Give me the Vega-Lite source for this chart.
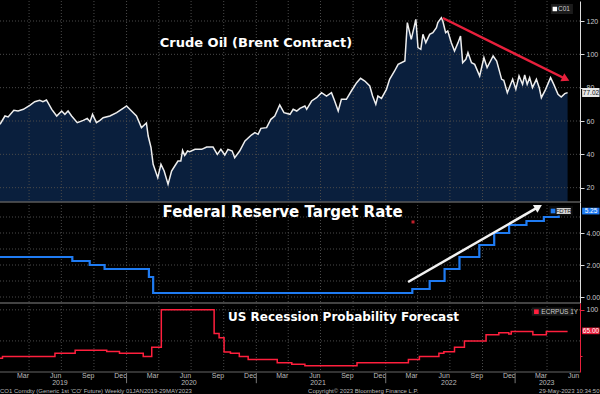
{
"$schema":"https://vega.github.io/schema/vega-lite/v6.json",
"background":"#000000","padding":{"left":-5,"right":0,"top":0,"bottom":0},"spacing":0,"bounds":"flush",
"config":{"view":{"stroke":null},"axis":{"labelFont":"Liberation Sans","title":null},"text":{"font":"Liberation Sans"}},
"datasets":{
"oil":[{"d":"2019-01-09","v":58},{"d":"2019-01-23","v":63},{"d":"2019-02-01","v":62.4},{"d":"2019-02-17","v":66.4},{"d":"2019-03-01","v":66},{"d":"2019-03-16","v":67},{"d":"2019-04-03","v":69.4},{"d":"2019-04-17","v":71.6},{"d":"2019-05-01","v":72.4},{"d":"2019-05-10","v":71.6},{"d":"2019-05-20","v":72.6},{"d":"2019-06-04","v":67},{"d":"2019-06-18","v":63},{"d":"2019-07-02","v":66},{"d":"2019-07-11","v":64},{"d":"2019-07-20","v":66},{"d":"2019-07-30","v":63},{"d":"2019-08-15","v":59},{"d":"2019-09-01","v":60.4},{"d":"2019-09-12","v":61.6},{"d":"2019-09-20","v":59.6},{"d":"2019-09-27","v":64},{"d":"2019-10-08","v":59},{"d":"2019-10-18","v":60.4},{"d":"2019-10-27","v":62},{"d":"2019-11-15","v":63},{"d":"2019-12-04","v":65},{"d":"2019-12-21","v":67.4},{"d":"2020-01-01","v":69},{"d":"2020-01-15","v":66},{"d":"2020-01-29","v":63},{"d":"2020-02-12","v":56},{"d":"2020-02-26","v":58.8},{"d":"2020-03-02","v":51},{"d":"2020-03-10","v":44},{"d":"2020-03-16","v":34},{"d":"2020-03-29","v":26},{"d":"2020-04-07","v":34},{"d":"2020-04-16","v":30},{"d":"2020-04-27","v":22},{"d":"2020-05-07","v":30},{"d":"2020-05-16","v":33},{"d":"2020-05-25","v":36},{"d":"2020-06-02","v":36},{"d":"2020-06-07","v":42.4},{"d":"2020-06-13","v":39.4},{"d":"2020-06-21","v":42},{"d":"2020-06-27","v":41.6},{"d":"2020-07-12","v":43},{"d":"2020-07-31","v":43},{"d":"2020-08-14","v":44.4},{"d":"2020-09-01","v":44.4},{"d":"2020-09-13","v":40},{"d":"2020-09-23","v":43},{"d":"2020-10-04","v":39.6},{"d":"2020-10-13","v":43},{"d":"2020-10-25","v":42},{"d":"2020-11-01","v":38},{"d":"2020-11-15","v":42},{"d":"2020-11-30","v":48},{"d":"2020-12-18","v":51.6},{"d":"2020-12-28","v":53},{"d":"2021-01-06","v":52},{"d":"2021-01-14","v":55.6},{"d":"2021-01-30","v":56},{"d":"2021-02-11","v":61},{"d":"2021-02-22","v":63},{"d":"2021-03-08","v":69.6},{"d":"2021-03-20","v":65},{"d":"2021-04-06","v":64},{"d":"2021-04-15","v":67},{"d":"2021-04-25","v":66},{"d":"2021-05-04","v":67.6},{"d":"2021-05-18","v":69},{"d":"2021-05-23","v":67},{"d":"2021-06-06","v":72},{"d":"2021-06-20","v":74},{"d":"2021-07-04","v":77},{"d":"2021-07-18","v":75},{"d":"2021-08-01","v":77},{"d":"2021-08-10","v":72},{"d":"2021-08-20","v":66},{"d":"2021-08-29","v":73},{"d":"2021-09-12","v":73},{"d":"2021-09-26","v":78},{"d":"2021-10-11","v":83},{"d":"2021-10-22","v":85.6},{"d":"2021-11-03","v":84},{"d":"2021-11-17","v":81},{"d":"2021-11-25","v":75},{"d":"2021-12-04","v":70},{"d":"2021-12-10","v":75},{"d":"2021-12-20","v":73.6},{"d":"2022-01-03","v":79},{"d":"2022-01-12","v":85},{"d":"2022-01-26","v":90},{"d":"2022-02-05","v":94},{"d":"2022-02-24","v":96},{"d":"2022-03-03","v":119},{"d":"2022-03-14","v":109},{"d":"2022-03-27","v":121},{"d":"2022-04-02","v":104},{"d":"2022-04-10","v":103},{"d":"2022-04-16","v":112},{"d":"2022-04-24","v":107},{"d":"2022-05-05","v":112},{"d":"2022-05-14","v":113},{"d":"2022-05-24","v":116},{"d":"2022-05-28","v":119},{"d":"2022-06-07","v":122},{"d":"2022-06-11","v":120},{"d":"2022-06-19","v":113},{"d":"2022-06-25","v":114},{"d":"2022-07-05","v":107},{"d":"2022-07-14","v":102},{"d":"2022-07-24","v":107},{"d":"2022-07-31","v":111},{"d":"2022-08-06","v":95},{"d":"2022-08-15","v":97},{"d":"2022-08-21","v":101},{"d":"2022-08-31","v":95},{"d":"2022-09-09","v":94},{"d":"2022-09-23","v":87},{"d":"2022-10-05","v":98},{"d":"2022-10-14","v":92},{"d":"2022-10-31","v":99},{"d":"2022-11-10","v":96},{"d":"2022-11-24","v":85},{"d":"2022-11-30","v":84.4},{"d":"2022-12-10","v":77},{"d":"2022-12-25","v":85},{"d":"2023-01-03","v":79},{"d":"2023-01-12","v":87},{"d":"2023-01-22","v":82},{"d":"2023-01-28","v":87.6},{"d":"2023-02-04","v":82},{"d":"2023-02-11","v":86},{"d":"2023-02-19","v":80},{"d":"2023-03-02","v":85},{"d":"2023-03-10","v":80},{"d":"2023-03-16","v":74},{"d":"2023-03-28","v":79},{"d":"2023-04-11","v":86},{"d":"2023-04-20","v":82},{"d":"2023-05-02","v":76},{"d":"2023-05-11","v":74.4},{"d":"2023-05-21","v":76.4},{"d":"2023-05-29","v":77}],
"fed":[{"d":"2019-01-09","v":2.5},{"d":"2019-08-01","v":2.25},{"d":"2019-09-19","v":2.0},{"d":"2019-10-31","v":1.75},{"d":"2020-03-04","v":1.25},{"d":"2020-03-16","v":0.25},{"d":"2022-03-17","v":0.5},{"d":"2022-05-05","v":1.0},{"d":"2022-06-16","v":1.75},{"d":"2022-07-28","v":2.5},{"d":"2022-09-22","v":3.25},{"d":"2022-11-03","v":4.0},{"d":"2022-12-15","v":4.5},{"d":"2023-02-02","v":4.75},{"d":"2023-03-23","v":5.0},{"d":"2023-05-04","v":5.25},{"d":"2023-05-29","v":5.25}],
"rec":[{"d":"2019-01-09","v":22},{"d":"2019-01-16","v":25},{"d":"2019-06-13","v":30},{"d":"2019-08-09","v":35},{"d":"2019-11-06","v":33},{"d":"2019-12-12","v":30},{"d":"2020-02-17","v":25},{"d":"2020-03-12","v":40},{"d":"2020-04-08","v":100},{"d":"2020-09-04","v":62},{"d":"2020-09-18","v":55},{"d":"2020-10-02","v":32},{"d":"2020-10-20","v":30},{"d":"2020-11-14","v":25},{"d":"2020-12-09","v":20},{"d":"2021-03-01","v":15},{"d":"2021-04-11","v":12.5},{"d":"2021-05-18","v":10},{"d":"2021-10-12","v":15},{"d":"2022-03-06","v":20},{"d":"2022-04-06","v":25},{"d":"2022-05-31","v":30},{"d":"2022-06-14","v":32.5},{"d":"2022-07-14","v":40},{"d":"2022-08-11","v":50},{"d":"2022-10-11","v":60},{"d":"2022-11-16","v":63},{"d":"2022-12-14","v":61},{"d":"2022-12-21","v":65},{"d":"2023-02-20","v":60},{"d":"2023-03-30","v":65},{"d":"2023-05-29","v":65}],
"quarters":[{"d":"2019-04-01"},{"d":"2019-07-01"},{"d":"2019-10-01"},{"d":"2020-01-01"},{"d":"2020-04-01"},{"d":"2020-07-01"},{"d":"2020-10-01"},{"d":"2021-01-01"},{"d":"2021-04-01"},{"d":"2021-07-01"},{"d":"2021-10-01"},{"d":"2022-01-01"},{"d":"2022-04-01"},{"d":"2022-07-01"},{"d":"2022-10-01"},{"d":"2023-01-01"},{"d":"2023-04-01"}],
"months":[{"d":"2019-03-15","t":"Mar"},{"d":"2019-06-15","t":"Jun"},{"d":"2019-09-15","t":"Sep"},{"d":"2019-12-15","t":"Dec"},{"d":"2020-03-15","t":"Mar"},{"d":"2020-06-15","t":"Jun"},{"d":"2020-09-15","t":"Sep"},{"d":"2020-12-15","t":"Dec"},{"d":"2021-03-15","t":"Mar"},{"d":"2021-06-15","t":"Jun"},{"d":"2021-09-15","t":"Sep"},{"d":"2021-12-15","t":"Dec"},{"d":"2022-03-15","t":"Mar"},{"d":"2022-06-15","t":"Jun"},{"d":"2022-09-15","t":"Sep"},{"d":"2022-12-15","t":"Dec"},{"d":"2023-03-15","t":"Mar"},{"d":"2023-06-15","t":"Jun"}]
},
"vconcat":[
{"width":580,"height":201,
"layer":[
{"data":{"name":"oil"},"mark":{"type":"area","color":"#0a1f3d"},
"encoding":{"x":{"field":"d","type":"temporal","scale":{"domain":[{"year":2019,"month":1,"date":9,"utc":true},{"year":2023,"month":7,"date":3,"utc":true}]},"axis":null},
"y":{"field":"v","type":"quantitative","scale":{"domain":[11.4,132],"nice":false,"zero":false},"axis":{"orient":"right","values":[20,30,40,50,60,70,80,90,100,110,120,130],"labelExpr":"datum.value % 20 == 0 ? datum.label : ''","tickSize":{"condition":{"test":"datum.value % 20 == 0","value":4},"value":2},"grid":false,"domainColor":"#dddddd","tickColor":"#dddddd","labelColor":"#cccccc","labelFontSize":7,"labelPadding":2}},
"y2":{"datum":11.4}}},
{"data":{"name":"quarters"},"mark":{"type":"rule","color":"#4a4a4a","strokeDash":[1,2]},"encoding":{"x":{"field":"d","type":"temporal"}}},
{"data":{"values":[{"v":20},{"v":40},{"v":60},{"v":80},{"v":100},{"v":120}]},"mark":{"type":"rule","color":"#4a4a4a","strokeDash":[1,2]},"encoding":{"y":{"field":"v","type":"quantitative"}}},
{"data":{"values":[{"v":11.4}]},"mark":{"type":"rule","color":"#5a5a5a","strokeWidth":1.5},"encoding":{"y":{"field":"v","type":"quantitative"}}},
{"data":{"name":"oil"},"mark":{"type":"line","color":"#eeeeee","strokeWidth":1.5},"encoding":{"x":{"field":"d","type":"temporal"},"y":{"field":"v","type":"quantitative"}}},
{"data":{"values":[{"d":"2022-06-11","v":121.8},{"d":"2023-05-24","v":85.2}]},"mark":{"type":"line","color":"#e8203c","strokeWidth":2.5},"encoding":{"x":{"field":"d","type":"temporal"},"y":{"field":"v","type":"quantitative"}}},
{"data":{"values":[{"d":"2023-05-24","v":85.2}]},"mark":{"type":"point","shape":"triangle-right","angle":26,"size":80,"filled":true,"opacity":1,"color":"#e8203c"},"encoding":{"x":{"field":"d","type":"temporal"},"y":{"field":"v","type":"quantitative"}}},
{"data":{"values":[{"d":"2020-12-31","v":106.8,"t":"Crude Oil (Brent Contract)"}]},"mark":{"type":"text","font":"DejaVu Sans","fontWeight":"bold","fontSize":13,"color":"#ffffff","baseline":"middle"},"encoding":{"x":{"field":"d","type":"temporal"},"y":{"field":"v","type":"quantitative"},"text":{"field":"t"}}},
{"data":{"values":[{"d":"2023-04-12","d2":"2023-06-13","v":124.2,"v2":130.2}]},"mark":{"type":"rect","color":"#1c1c1c"},"encoding":{"x":{"field":"d","type":"temporal"},"x2":{"field":"d2"},"y":{"field":"v","type":"quantitative"},"y2":{"field":"v2"}}},
{"data":{"values":[{"d":"2023-04-23","v":127.2}]},"mark":{"type":"square","size":20,"opacity":1,"color":"#ffffff"},"encoding":{"x":{"field":"d","type":"temporal"},"y":{"field":"v","type":"quantitative"}}},
{"data":{"values":[{"d":"2023-05-02","v":127.2,"t":"C01"}]},"mark":{"type":"text","align":"left","baseline":"middle","fontSize":6.5,"color":"#cccccc"},"encoding":{"x":{"field":"d","type":"temporal"},"y":{"field":"v","type":"quantitative"},"text":{"field":"t"}}},
{"data":{"values":[{"d":"2023-07-09","d2":"2023-08-27","v":74.4,"v2":79.8}]},"mark":{"type":"rect","color":"#e6e6e6"},"encoding":{"x":{"field":"d","type":"temporal"},"x2":{"field":"d2"},"y":{"field":"v","type":"quantitative"},"y2":{"field":"v2"}}},
{"data":{"values":[{"d":"2023-08-03","v":77.1,"t":"77.02"}]},"mark":{"type":"text","baseline":"middle","fontSize":6.5,"color":"#111111"},"encoding":{"x":{"field":"d","type":"temporal"},"y":{"field":"v","type":"quantitative"},"text":{"field":"t"}}}
]},
{"width":580,"height":101,
"layer":[
{"data":{"name":"quarters"},"mark":{"type":"rule","color":"#4a4a4a","strokeDash":[1,2]},
"encoding":{"x":{"field":"d","type":"temporal","scale":{"domain":[{"year":2019,"month":1,"date":9,"utc":true},{"year":2023,"month":7,"date":3,"utc":true}]},"axis":null}}},
{"data":{"values":[{"v":0},{"v":1},{"v":2},{"v":3},{"v":4},{"v":5}]},"mark":{"type":"rule","color":"#4a4a4a","strokeDash":[1,2]},"encoding":{"y":{"field":"v","type":"quantitative"}}},
{"data":{"values":[{"v":-0.375}]},"mark":{"type":"rule","color":"#5a5a5a","strokeWidth":1.5},"encoding":{"y":{"field":"v","type":"quantitative"}}},
{"data":{"name":"fed"},"mark":{"type":"line","color":"#1f7bf2","strokeWidth":2.2,"interpolate":"step-after"},
"encoding":{"x":{"field":"d","type":"temporal"},
"y":{"field":"v","type":"quantitative","scale":{"domain":[-0.375,5.9375],"nice":false,"zero":false},"axis":{"orient":"right","values":[0,0.5,1,1.5,2,2.5,3,3.5,4,4.5,5,5.5],"labelExpr":"datum.value % 1 == 0 ? format(datum.value, '.2f') : ''","tickSize":{"condition":{"test":"datum.value % 1 == 0","value":4},"value":2},"grid":false,"domainColor":"#dddddd","tickColor":"#dddddd","labelColor":"#cccccc","labelFontSize":7,"labelPadding":2}}}},
{"data":{"values":[{"d":"2022-03-05","v":0.94},{"d":"2023-03-08","v":5.63}]},"mark":{"type":"line","color":"#f2f2f2","strokeWidth":2.5},"encoding":{"x":{"field":"d","type":"temporal"},"y":{"field":"v","type":"quantitative"}}},
{"data":{"values":[{"d":"2023-03-08","v":5.63}]},"mark":{"type":"point","shape":"triangle-right","angle":-30,"size":80,"filled":true,"opacity":1,"color":"#f2f2f2"},"encoding":{"x":{"field":"d","type":"temporal"},"y":{"field":"v","type":"quantitative"}}},
{"data":{"values":[{"d":"2022-03-19","v":4.69}]},"mark":{"type":"square","size":9,"opacity":1,"color":"#c0202a"},"encoding":{"x":{"field":"d","type":"temporal"},"y":{"field":"v","type":"quantitative"}}},
{"data":{"values":[{"d":"2021-03-16","v":5.31,"t":"Federal Reserve Target Rate"}]},"mark":{"type":"text","font":"DejaVu Sans","fontWeight":"bold","fontSize":15,"color":"#ffffff","baseline":"middle"},"encoding":{"x":{"field":"d","type":"temporal"},"y":{"field":"v","type":"quantitative"},"text":{"field":"t"}}},
{"data":{"values":[{"d":"2023-04-06","d2":"2023-06-13","v":5.09,"v2":5.69}]},"mark":{"type":"rect","color":"#0d0d0d"},"encoding":{"x":{"field":"d","type":"temporal"},"x2":{"field":"d2"},"y":{"field":"v","type":"quantitative"},"y2":{"field":"v2"}}},
{"data":{"values":[{"d":"2023-04-18","v":5.375}]},"mark":{"type":"square","size":22,"opacity":1,"color":"#1f7bf2"},"encoding":{"x":{"field":"d","type":"temporal"},"y":{"field":"v","type":"quantitative"}}},
{"data":{"values":[{"d":"2023-04-28","d2":"2023-06-07","v":5.19,"v2":5.56}]},"mark":{"type":"rect","color":"#d8d8d8"},"encoding":{"x":{"field":"d","type":"temporal"},"x2":{"field":"d2"},"y":{"field":"v","type":"quantitative"},"y2":{"field":"v2"}}},
{"data":{"values":[{"d":"2023-05-18","v":5.375,"t":"FDTR"}]},"mark":{"type":"text","baseline":"middle","fontSize":6,"color":"#222222"},"encoding":{"x":{"field":"d","type":"temporal"},"y":{"field":"v","type":"quantitative"},"text":{"field":"t"}}},
{"data":{"values":[{"d":"2023-07-09","d2":"2023-08-27","v":5.16,"v2":5.58}]},"mark":{"type":"rect","color":"#1f7bf2"},"encoding":{"x":{"field":"d","type":"temporal"},"x2":{"field":"d2"},"y":{"field":"v","type":"quantitative"},"y2":{"field":"v2"}}},
{"data":{"values":[{"d":"2023-08-03","v":5.37,"t":"5.25"}]},"mark":{"type":"text","baseline":"middle","fontSize":6.5,"color":"#ffffff"},"encoding":{"x":{"field":"d","type":"temporal"},"y":{"field":"v","type":"quantitative"},"text":{"field":"t"}}}
]},
{"width":580,"height":69,
"layer":[
{"data":{"name":"quarters"},"mark":{"type":"rule","color":"#4a4a4a","strokeDash":[1,2]},
"encoding":{"x":{"field":"d","type":"temporal","scale":{"domain":[{"year":2019,"month":1,"date":9,"utc":true},{"year":2023,"month":7,"date":3,"utc":true}]},"axis":null}}},
{"data":{"values":[{"v":50},{"v":100}]},"mark":{"type":"rule","color":"#4a4a4a","strokeDash":[1,2]},"encoding":{"y":{"field":"v","type":"quantitative"}}},
{"data":{"values":[{"v":0}]},"mark":{"type":"rule","color":"#666666"},"encoding":{"y":{"field":"v","type":"quantitative"}}},
{"data":{"name":"rec"},"mark":{"type":"line","color":"#ff1f3d","strokeWidth":1.5,"interpolate":"step-after"},
"encoding":{"x":{"field":"d","type":"temporal"},
"y":{"field":"v","type":"quantitative","scale":{"domain":[0,111],"nice":false,"zero":false},"axis":{"orient":"right","values":[25,50,75,100],"labelExpr":"datum.value % 50 == 0 ? datum.label : ''","tickSize":{"condition":{"test":"datum.value % 50 == 0","value":4},"value":2},"grid":false,"domainColor":"#e8203c","tickColor":"#e8203c","labelColor":"#cccccc","labelFontSize":7,"labelPadding":2}}}},
{"data":{"values":[{"d":"2021-09-04","v":87.9,"t":"US Recession Probability Forecast"}]},"mark":{"type":"text","font":"DejaVu Sans","fontWeight":"bold","fontSize":12,"color":"#ffffff","baseline":"middle"},"encoding":{"x":{"field":"d","type":"temporal"},"y":{"field":"v","type":"quantitative"},"text":{"field":"t"}}},
{"data":{"values":[{"d":"2023-02-17","d2":"2023-06-14","v":90.3,"v2":103.7}]},"mark":{"type":"rect","color":"#1a1a1a"},"encoding":{"x":{"field":"d","type":"temporal"},"x2":{"field":"d2"},"y":{"field":"v","type":"quantitative"},"y2":{"field":"v2"}}},
{"data":{"values":[{"d":"2023-03-02","v":97}]},"mark":{"type":"square","size":22,"opacity":1,"color":"#ff1f3d"},"encoding":{"x":{"field":"d","type":"temporal"},"y":{"field":"v","type":"quantitative"}}},
{"data":{"values":[{"d":"2023-03-16","v":97,"t":"ECRPUS 1Y"}]},"mark":{"type":"text","align":"left","baseline":"middle","fontSize":6.5,"color":"#cccccc"},"encoding":{"x":{"field":"d","type":"temporal"},"y":{"field":"v","type":"quantitative"},"text":{"field":"t"}}},
{"data":{"values":[{"d":"2023-07-09","d2":"2023-08-27","v":60.8,"v2":71.5}]},"mark":{"type":"rect","color":"#e8203c"},"encoding":{"x":{"field":"d","type":"temporal"},"x2":{"field":"d2"},"y":{"field":"v","type":"quantitative"},"y2":{"field":"v2"}}},
{"data":{"values":[{"d":"2023-08-03","v":66,"t":"65.00"}]},"mark":{"type":"text","baseline":"middle","fontSize":6.5,"color":"#ffffff"},"encoding":{"x":{"field":"d","type":"temporal"},"y":{"field":"v","type":"quantitative"},"text":{"field":"t"}}},
{"data":{"name":"months"},"mark":{"type":"text","baseline":"middle","fontSize":7,"color":"#bbbbbb"},"encoding":{"x":{"field":"d","type":"temporal"},"y":{"datum":-6.6},"text":{"field":"t"}}},
{"data":{"values":[{"d":"2019-06-27","t":"2019"},{"d":"2020-06-25","t":"2020"},{"d":"2021-06-24","t":"2021"},{"d":"2022-06-28","t":"2022"},{"d":"2023-03-31","t":"2023"}]},"mark":{"type":"text","baseline":"middle","fontSize":7,"color":"#bbbbbb"},"encoding":{"x":{"field":"d","type":"temporal"},"y":{"datum":-17.5},"text":{"field":"t"}}},
{"data":{"values":[{"d":"2020-01-01"},{"d":"2021-01-01"},{"d":"2022-01-01"},{"d":"2023-01-01"}]},"mark":{"type":"rule","color":"#777777"},"encoding":{"x":{"field":"d","type":"temporal"},"y":{"datum":-1.5},"y2":{"datum":-18}}},
{"data":{"values":[{"d":"2019-01-09","t":"CO1 Comdty (Generic 1st 'CO' Future)  Weekly 01JAN2019-29MAY2023"},{"d":"2021-05-27","t":"Copyright© 2023 Bloomberg Finance L.P."}]},"mark":{"type":"text","align":"left","baseline":"middle","fontSize":6,"color":"#bbbbbb"},"encoding":{"x":{"field":"d","type":"temporal"},"y":{"datum":-29.8},"text":{"field":"t"}}},
{"data":{"values":[{"d":"2023-08-27","t":"29-May-2023 10:34:50"}]},"mark":{"type":"text","align":"right","baseline":"middle","fontSize":6,"color":"#bbbbbb"},"encoding":{"x":{"field":"d","type":"temporal"},"y":{"datum":-29.8},"text":{"field":"t"}}}
]}
]}
